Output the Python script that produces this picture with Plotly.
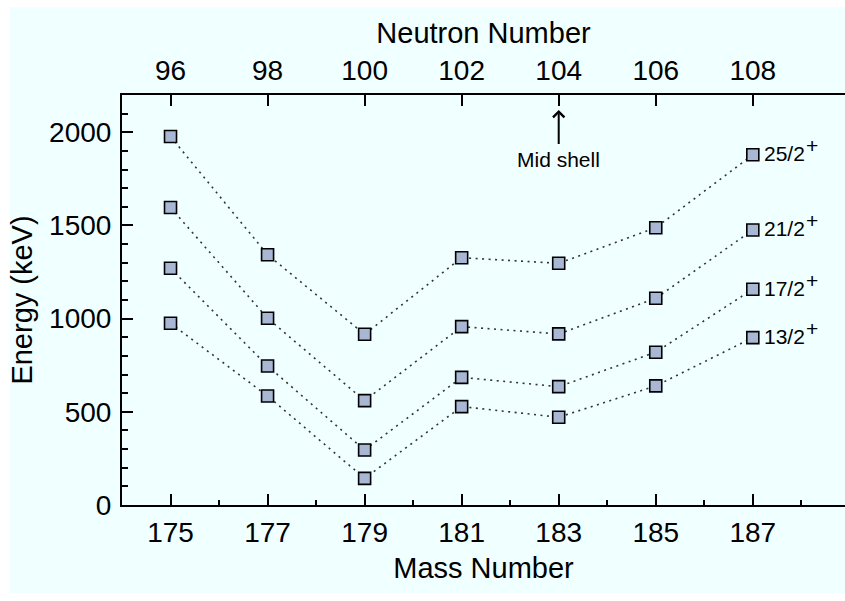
import plotly.graph_objects as go

# ---- data ----
mass_number = [175, 177, 179, 181, 183, 185, 187]
neutron_ticks = [96, 98, 100, 102, 104, 106, 108]
energy_13_2 = [975, 585, 143, 528, 471, 639, 898]
energy_17_2 = [1270, 746, 295, 685, 635, 820, 1158]
energy_21_2 = [1596, 1002, 560, 957, 918, 1109, 1476]
energy_25_2 = [1977, 1343, 916, 1327, 1297, 1488, 1879]
series_labels = ["13/2", "17/2", "21/2", "25/2"]
parity = "+"
energy_ticks = [0, 500, 1000, 1500, 2000]
Z_GOLD = 79
mid_shell_mass = 183

FONT = "Liberation Sans, Arial, Helvetica, sans-serif"
BG = "#f0ffff"
MARK = "#a8b7d3"

fig = go.Figure()
all_series = [energy_13_2, energy_17_2, energy_21_2, energy_25_2]
for vals, lab in zip(all_series, series_labels):
    fig.add_trace(go.Scatter(
        x=mass_number, y=vals, mode="lines+markers", name=lab + parity,
        line=dict(color="#333333", width=1.6, dash="2px,4.5px"),
        marker=dict(symbol="square", size=12, color=MARK,
                    line=dict(color="black", width=1.6)),
        showlegend=False, cliponaxis=False,
    ))
    fig.add_annotation(x=mass_number[-1], y=vals[-1], text=lab,
                       xanchor="left", yanchor="middle", xshift=9, yshift=1,
                       showarrow=False, font=dict(family=FONT, size=21, color="black"))
    fig.add_annotation(x=mass_number[-1], y=vals[-1], text=parity,
                       xanchor="left", yanchor="middle", xshift=51, yshift=9,
                       showarrow=False, font=dict(family=FONT, size=21, color="black"))

# invisible trace to activate top axis
fig.add_trace(go.Scatter(x=neutron_ticks, y=[None] * len(neutron_ticks),
                         xaxis="x2", mode="markers", showlegend=False, hoverinfo="skip"))

# Mid shell label with arrow up to the top axis
fig.add_annotation(x=mid_shell_mass, y=2120, ax=0, ay=50, axref="pixel", ayref="pixel",
                   text="Mid shell", showarrow=True, arrowhead=4, arrowsize=1.1,
                   arrowwidth=2, arrowcolor="black", startstandoff=3,
                   font=dict(family=FONT, size=21, color="black"))

xr = [174, 188.9]
fig.update_layout(
    width=845, height=601,
    margin=dict(l=122, r=0, t=95, b=96, pad=0),
    paper_bgcolor="white", plot_bgcolor=BG,
    font=dict(family=FONT, size=28, color="black"),
    shapes=[dict(type="rect", xref="paper", yref="paper",
                 x0=(10 - 122) / 723, x1=1.02, y0=(505 - 593) / 410, y1=(505 - 7) / 410,
                 fillcolor=BG, line=dict(width=0), layer="below")],
    xaxis=dict(range=xr, tickmode="array", tickvals=mass_number,
               ticks="inside", ticklen=11, tickwidth=2, tickcolor="black",
               minor=dict(dtick=1, tick0=0, ticks="inside", ticklen=5.5,
                          tickwidth=1.5, tickcolor="black"),
               showline=True, linewidth=2, linecolor="black", showgrid=False,
               zeroline=False, ticklabelstandoff=1,
               tickfont=dict(size=28),
               title=dict(text="Mass Number", font=dict(size=29), standoff=11)),
    xaxis2=dict(range=[xr[0] - Z_GOLD, xr[1] - Z_GOLD], overlaying="x", side="top",
                tickmode="array", tickvals=neutron_ticks,
                ticks="inside", ticklen=11, tickwidth=2, tickcolor="black",
                showline=True, linewidth=2, linecolor="black", showgrid=False,
                zeroline=False, ticklabelstandoff=2, tickfont=dict(size=28),
                title=dict(text="Neutron Number", font=dict(size=29), standoff=3)),
    yaxis=dict(range=[0, 2200], tickmode="array", tickvals=energy_ticks,
               ticks="inside", ticklen=11, tickwidth=2, tickcolor="black",
               minor=dict(dtick=100, tick0=0, ticks="inside", ticklen=5.5,
                          tickwidth=1.5, tickcolor="black"),
               showline=True, linewidth=2, linecolor="black", showgrid=False,
               zeroline=False, ticklabelstandoff=3, tickfont=dict(size=28),
               title=dict(text="Energy (keV)", font=dict(size=29), standoff=8)),
)

fig.write_html("out.html", config={"displayModeBar": False},
               post_script="document.body.style.margin='0';")
